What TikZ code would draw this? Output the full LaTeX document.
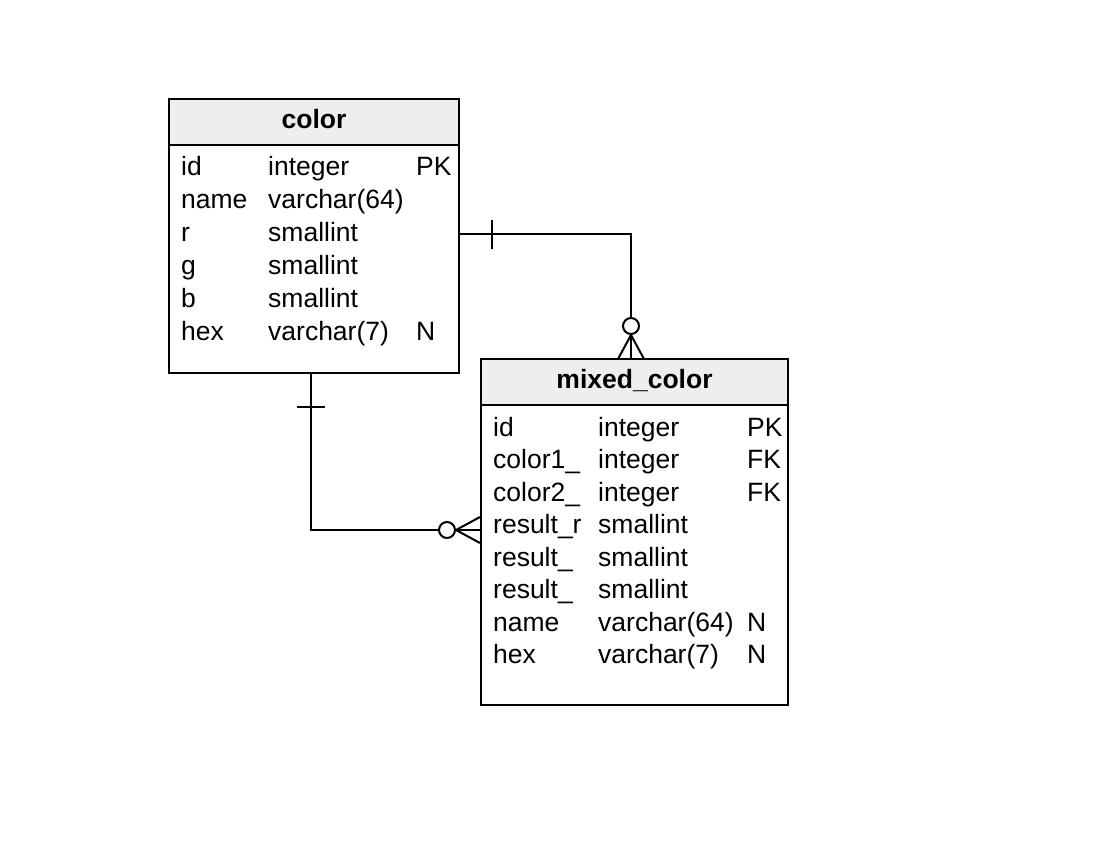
\documentclass[tikz,border=0pt]{standalone}
\usepackage{fontspec}
\setmainfont{Liberation Sans}
\usetikzlibrary{positioning}
\definecolor{headgray}{HTML}{EEEEEE}
\tikzset{
  tablehead/.style={
    rectangle,
    draw=black,
    line width=2pt,
    fill=headgray,
    inner sep=0pt
    },
  tablebody/.style={
    rectangle,
    draw=black,
    line width=2pt,
    fill=white,
    inner sep=0pt
    },
  headtext/.style={
    anchor=base,
    inner sep=0pt,
    font=\fontsize{26.5}{33}\selectfont\bfseries
    },
  field/.style={
    anchor=base west,
    inner sep=0pt,
    font=\fontsize{26.5}{33}\selectfont
    },
  rel/.style={line width=2pt},
  optional/.style={
    circle,
    draw=black,
    line width=2pt,
    fill=white,
    minimum size=16pt,
    inner sep=0pt
    },
}
\begin{document}
\begin{tikzpicture}[x=1pt,y=-1pt]
\useasboundingbox (0,0) rectangle (1105,851);

% table color
\node (colorbody) [tablebody, minimum width=290pt, minimum height=228pt] at (314,259) {};
\node (colorhead) [tablehead, minimum width=290pt, minimum height=46pt] at (314,122) {};
\node (colortitle) [headtext] at (314,128) {color};
\foreach \y/\a/\b/\c [count=\i] in {175/id/integer/PK, 208/name/varchar(64)/, 241/r/smallint/,
    274/g/smallint/, 307/b/smallint/, 340/hex/varchar(7)/N}{
  \node (c\i a) [field] at (181,\y) {\a};
  \node (c\i b) [field] at (268,\y) {\b};
  \node (c\i c) [field] at (416,\y) {\c};
}

% table mixed_color
\node (mixbody) [tablebody, minimum width=307pt, minimum height=300pt] at (634.5,555) {};
\node (mixhead) [tablehead, minimum width=307pt, minimum height=46pt] at (634.5,382) {};
\node (mixtitle) [headtext] at (634.5,388) {mixed\_color};
\foreach \y/\a/\b/\c [count=\i] in {436/id/integer/PK, 468.5/color1\_/integer/FK, 501/color2\_/integer/FK,
    533.5/result\_r/smallint/, 566/result\_/smallint/, 598.5/result\_/smallint/,
    631/name/varchar(64)/N, 663.5/hex/varchar(7)/N}{
  \node (m\i a) [field] at (493,\y) {\a};
  \node (m\i b) [field] at (598,\y) {\b};
  \node (m\i c) [field] at (747,\y) {\c};
}

% relation color -> mixed_color (top)
\coordinate (r1start) at (colorbody.east |- 0,234);
\coordinate (r1foot) at (631,359);
\node (r1circ) [optional] at (631,326) {};
\draw[rel] (r1start) -| (r1circ.north);
\draw[rel] (492,220) -- (492,249);
\draw[rel] (r1circ.south) -- (r1foot);
\draw[rel] (r1circ.south) -- ([xshift=-13pt]r1foot);
\draw[rel] (r1circ.south) -- ([xshift=13pt]r1foot);

% relation color -> mixed_color (left)
\coordinate (r2start) at (colorbody.south -| 311,0);
\coordinate (r2foot) at (mixbody.west |- 0,530);
\node (r2circ) [optional] at (447,530) {};
\draw[rel] (r2start) |- (r2circ.west);
\draw[rel] (297,407) -- (325,407);
\draw[rel] (r2circ.east) -- (r2foot);
\draw[rel] (r2circ.east) -- ([yshift=-13pt]r2foot);
\draw[rel] (r2circ.east) -- ([yshift=13pt]r2foot);
\end{tikzpicture}
\end{document}
